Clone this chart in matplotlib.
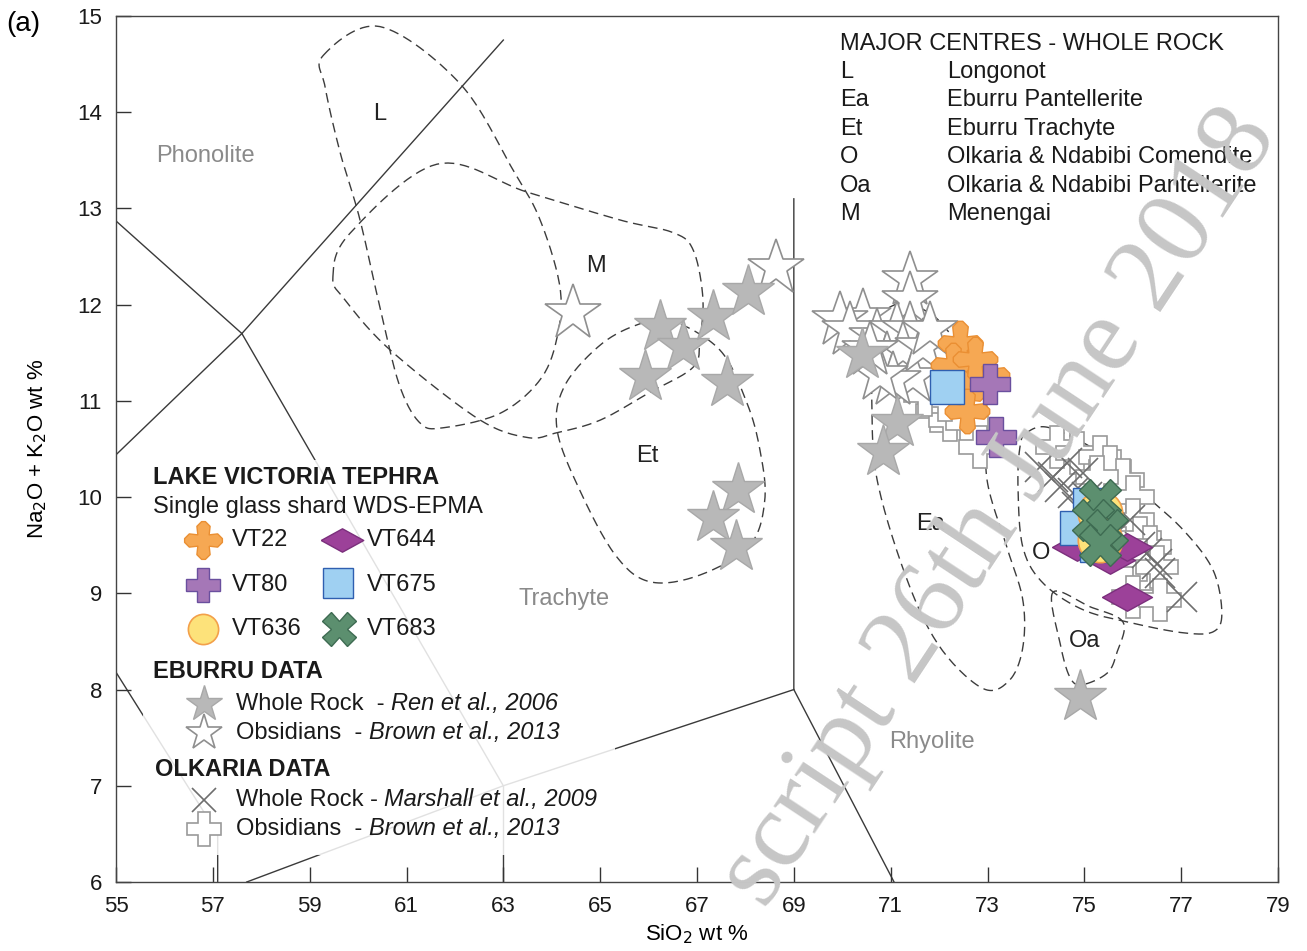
import numpy as np
import matplotlib
matplotlib.use('Agg')
import matplotlib.pyplot as plt
from matplotlib.patches import Rectangle

plt.rcParams['font.family'] = ['Liberation Sans', 'DejaVu Sans']

# ---TAS BOUNDARY LINES (SiO2, Na2O+K2O)---
tas_lines = [
    ([55.0, 57.6], [12.87, 11.7]),
    ([55.0, 57.6, 63.0], [10.44, 11.7, 14.75]),
    ([57.6, 63.0], [11.7, 7.0]),
    ([57.7, 63.0, 69.0], [6.0, 7.0, 8.0]),
    ([69.0, 69.0, 71.07], [13.1, 8.0, 6.0]),
    ([63.0, 63.0], [6.0, 7.0]),
    ([55.0, 57.1, 57.1], [8.18, 6.5, 6.0]),
]

# ---MAJOR CENTRE FIELDS (whole rock outlines)---
L_x = [59.28, 60.45, 62.10, 63.20, 63.76, 64.17, 64.11, 63.76, 62.93, 61.75, 61.28, 60.87, 60.51, 60.04, 59.63, 59.32]
L_y = [14.59, 14.89, 14.30, 13.40, 12.88, 12.18, 11.66, 11.22, 10.87, 10.72, 10.77, 11.14, 11.84, 12.88, 13.58, 14.26]
M_x = [59.48, 59.83, 61.63, 63.49, 65.41, 66.50, 66.92, 67.12, 67.06, 66.92, 66.03, 65.00, 64.11, 63.49, 62.46, 60.66, 59.73]
M_y = [12.29, 12.74, 13.46, 13.17, 12.88, 12.75, 12.57, 12.08, 11.63, 11.35, 11.09, 10.80, 10.67, 10.62, 10.82, 11.53, 12.05]
Et_x = [65.76, 66.44, 67.47, 68.03, 68.30, 68.40, 68.09, 67.06, 66.03, 65.31, 64.58, 64.11, 64.27, 65.00]
Et_y = [11.79, 11.84, 11.53, 10.98, 10.49, 9.97, 9.50, 9.19, 9.12, 9.40, 10.07, 10.70, 11.16, 11.58]
Ea_x = [70.72, 71.25, 71.81, 72.16, 72.58, 72.91, 72.99, 72.99, 73.40, 73.73, 73.73, 73.46, 72.91, 72.02, 71.34, 70.72, 70.61, 70.63]
Ea_y = [11.87, 12.02, 11.91, 11.74, 11.46, 11.14, 10.87, 10.18, 9.48, 8.93, 8.44, 8.10, 8.01, 8.44, 9.14, 10.18, 11.01, 11.63]
O_x = [73.81, 74.29, 75.32, 76.15, 77.04, 77.66, 77.84, 77.66, 77.04, 76.00, 74.97, 74.14, 73.73, 73.63, 73.67]
O_y = [10.67, 10.72, 10.46, 10.07, 9.66, 9.24, 8.79, 8.60, 8.59, 8.69, 8.83, 9.11, 9.48, 10.10, 10.52]
Oa_x = [74.35, 74.50, 74.70, 74.95, 75.47, 75.67, 75.80, 75.12]
Oa_y = [9.01, 8.48, 8.13, 8.05, 8.17, 8.38, 8.70, 8.86]

field_labels = ['L', 'M', 'Et', 'Ea', 'O', 'Oa']
field_lab_x = [60.45, 64.91, 65.97, 71.83, 74.10, 75.01]
field_lab_y = [13.98, 12.40, 10.43, 9.72, 9.42, 8.50]

rock_names = ['Phonolite', 'Trachyte', 'Rhyolite']
rock_x = [56.84, 64.25, 71.85]
rock_y = [13.54, 8.94, 7.46]

# ---EBURRU DATA---
ebu_wr_x = [66.24, 66.71, 65.93, 67.33, 68.05, 67.62, 67.85, 67.33, 67.80, 70.41, 71.13, 70.84, 74.91]
ebu_wr_y = [11.77, 11.56, 11.25, 11.87, 12.13, 11.19, 10.07, 9.78, 9.48, 11.48, 10.77, 10.47, 7.92]
ebu_obs_x = [64.44, 68.63, 71.40, 71.40, 70.43, 69.95, 70.16, 70.72, 71.13, 71.40, 70.92, 71.25,
             71.46, 71.67, 71.05, 71.81, 70.78, 70.57]
ebu_obs_y = [11.91, 12.38, 12.26, 12.05, 11.87, 11.84, 11.74, 11.66, 11.74, 11.74, 11.42, 11.53,
             11.25, 11.56, 11.22, 11.74, 11.27, 11.53]

# ---OLKARIA DATA---
olk_wr_x = [74.08, 74.35, 74.64, 74.50, 74.76, 74.97, 75.05, 74.85, 75.94, 76.15, 76.29, 76.50, 76.56, 77.02]
olk_wr_y = [10.31, 10.21, 10.35, 10.10, 10.04, 10.25, 10.00, 9.90, 9.76, 9.48, 9.42, 9.31, 9.21, 8.96]
olk_obs_x = [71.96, 72.22, 72.58, 72.84, 72.12, 71.71,
             74.43, 74.85, 75.32, 75.53, 75.80, 75.26, 76.00, 76.00, 76.15, 76.35, 76.15, 76.50, 76.00, 76.56]
olk_obs_y = [10.90, 10.80, 10.77, 10.52, 11.01, 11.06,
             10.52, 10.46, 10.42, 10.31, 10.18, 10.21, 10.00, 9.76, 9.58, 9.48, 9.35, 9.27, 8.96, 8.93]

# ---LAKE VICTORIA TEPHRA---
vt22_x = [72.43, 72.29, 72.99, 72.49, 72.58, 72.74]
vt22_y = [11.60, 11.37, 11.27, 11.08, 10.90, 11.44]
vt80_x = [73.05, 73.17]
vt80_y = [11.18, 10.62]
vt636_x = [75.32, 75.32]
vt636_y = [9.84, 9.55]
vt644_x = [74.85, 75.53, 75.88, 75.88]
vt644_y = [9.48, 9.35, 9.48, 8.96]
vt675_x = [72.16, 75.12, 74.85, 75.26]
vt675_y = [11.14, 9.92, 9.68, 9.50]
vt683_x = [75.32, 75.18, 75.47, 75.32]
vt683_y = [9.97, 9.76, 9.66, 9.50]


def closed_curve(xs, ys, n=16):
    p = np.column_stack([xs, ys])
    m = len(p)
    t = np.linspace(0, 1, n, endpoint=False)[:, None]
    out = []
    for i in range(m):
        p0, p1, p2, p3 = p[i - 1], p[i], p[(i + 1) % m], p[(i + 2) % m]
        out.append(0.5 * (2 * p1 + (-p0 + p2) * t + (2 * p0 - 5 * p1 + 4 * p2 - p3) * t ** 2
                          + (-p0 + 3 * p1 - 3 * p2 + p3) * t ** 3))
    out.append(p[:1])
    return np.vstack(out)


# VT22 marker: plus with chamfered arm ends
vt22_marker = [(0.3, -0.3), (0.75, -0.35), (1.0, -0.1), (1.0, 0.1), (0.75, 0.35), (0.3, 0.3),
               (0.35, 0.75), (0.1, 1.0), (-0.1, 1.0), (-0.35, 0.75), (-0.3, 0.3),
               (-0.75, 0.35), (-1.0, 0.1), (-1.0, -0.1), (-0.75, -0.35), (-0.3, -0.3),
               (-0.35, -0.75), (-0.1, -1.0), (0.1, -1.0), (0.35, -0.75), (0.3, -0.3)]
diamond_marker = [(-1, 0), (0, 0.55), (1, 0), (0, -0.55), (-1, 0)]

styles = {
    'vt22': dict(marker=vt22_marker, ms=32, mfc='#f6a853', mec='#ea8f33', mew=1.0),
    'vt80': dict(marker='P', ms=29, mfc='#a577b7', mec='#6a4f9e', mew=1.0),
    'vt636': dict(marker='o', ms=32, mfc='#fde27a', mec='#f3a04a', mew=1.2),
    'vt644': dict(marker=diamond_marker, ms=36, mfc='#9c4199', mec='#7b2f7c', mew=1.0),
    'vt675': dict(marker='s', ms=24, mfc='#9fd0f2', mec='#2f5fb0', mew=1.0),
    'vt683': dict(marker='X', ms=30, mfc='#5c8f6f', mec='#3e6b52', mew=1.0),
    'ebu_wr': dict(marker='*', ms=40, mfc='#b8b8b8', mec='#a8a8a8', mew=1.0),
    'ebu_obs': dict(marker='*', ms=42, mfc='white', mec='#8f8f8f', mew=1.2),
    'olk_wr': dict(marker='x', ms=22, mfc='none', mec='#6e6e6e', mew=1.2),
    'olk_obs': dict(marker='P', ms=30, mfc='white', mec='#9a9a9a', mew=1.2),
}

fig = plt.figure(figsize=(13.07, 9.51), dpi=100)
ax = fig.add_axes([116 / 1307, 69 / 951, 1162 / 1307, 866 / 951])
ax.set_xlim(55, 79)
ax.set_ylim(6, 15)


def ax_pt(px, py):
    return (px - 116) / 1162, (882 - py) / 866


# watermark
fig.text(1000 / 1307, 1 - 508 / 951, 'script 26th June 2018', family=['Liberation Serif', 'DejaVu Serif'],
         fontsize=78, color='#c6c6c6', rotation=56.5, rotation_mode='anchor',
         ha='center', va='center', zorder=0)

for xs, ys in tas_lines:
    ax.plot(xs, ys, color='#3a3a3a', lw=1.0, zorder=1)

for fx, fy in [(L_x, L_y), (M_x, M_y), (Et_x, Et_y), (Ea_x, Ea_y), (O_x, O_y), (Oa_x, Oa_y)]:
    c = closed_curve(fx, fy)
    ax.plot(c[:, 0], c[:, 1], color='#3c3c3c', lw=1.0, ls=(0, (7, 4)), zorder=2)

for lab, x, y in zip(field_labels, field_lab_x, field_lab_y):
    ax.text(x, y, lab, fontsize=17, color='#222222', ha='center', va='center', zorder=2)
for lab, x, y in zip(rock_names, rock_x, rock_y):
    ax.text(x, y, lab, fontsize=17, color='#8a8a8a', ha='center', va='center', zorder=2)

ax.plot(olk_obs_x, olk_obs_y, ls='none', zorder=3, **styles['olk_obs'])
ax.plot(ebu_obs_x, ebu_obs_y, ls='none', zorder=3, **styles['ebu_obs'])
ax.plot(ebu_wr_x, ebu_wr_y, ls='none', zorder=3, **styles['ebu_wr'])
ax.plot(olk_wr_x, olk_wr_y, ls='none', zorder=3, **styles['olk_wr'])
ax.plot(vt22_x, vt22_y, ls='none', zorder=4, **styles['vt22'])
ax.plot(vt80_x, vt80_y, ls='none', zorder=4, **styles['vt80'])
ax.plot(vt644_x, vt644_y, ls='none', zorder=4, **styles['vt644'])
ax.plot(vt675_x, vt675_y, ls='none', zorder=4, **styles['vt675'])
ax.plot(vt636_x, vt636_y, ls='none', zorder=4, **styles['vt636'])
ax.plot(vt683_x, vt683_y, ls='none', zorder=4, **styles['vt683'])

# ---LEGEND BLOCK (left)---
x0, y0 = ax_pt(143, 683)
x1, y1 = ax_pt(450, 460)
ax.add_patch(Rectangle((x0, y0), x1 - x0, y1 - y0, transform=ax.transAxes,
                       fc='white', ec='none', alpha=0.85, zorder=5))
x0, y0 = ax_pt(143, 855)
x1, y1 = ax_pt(615, 683)
ax.add_patch(Rectangle((x0, y0), x1 - x0, y1 - y0, transform=ax.transAxes,
                       fc='white', ec='none', alpha=0.85, zorder=5))


def leg_text(px, py, s, **kw):
    x, y = ax_pt(px, py)
    return ax.text(x, y, s, transform=ax.transAxes, va='center', ha='left', fontsize=17,
                   color='#1a1a1a', zorder=6, **kw)


def leg_cite(prev, s):
    # italic reference placed right after the plain part
    ax.annotate(s, xy=(1, 0), xycoords=prev, va='bottom', ha='left', fontsize=17,
                style='italic', color='#1a1a1a', zorder=6)


def leg_mark(px, py, key, scale=1.0):
    x, y = ax_pt(px, py)
    st = dict(styles[key])
    st['ms'] = st['ms'] * scale
    ax.plot([x], [y], transform=ax.transAxes, ls='none', clip_on=False, zorder=6, **st)


leg_text(153, 477, 'LAKE VICTORIA TEPHRA', fontweight='bold')
leg_text(153, 507, 'Single glass shard WDS-EPMA')
leg_mark(203, 540, 'vt22', 0.85)
leg_text(232, 540, 'VT22')
leg_mark(342, 540, 'vt644', 0.85)
leg_text(367, 540, 'VT644')
leg_mark(203, 585, 'vt80', 0.83)
leg_text(232, 585, 'VT80')
leg_mark(338, 583, 'vt675', 0.9)
leg_text(367, 585, 'VT675')
leg_mark(203, 629, 'vt636', 0.68)
leg_text(232, 629, 'VT636')
leg_mark(339, 629, 'vt683', 0.8)
leg_text(367, 629, 'VT683')
leg_text(153, 672, 'EBURRU DATA', fontweight='bold')
leg_mark(204, 704, 'ebu_wr', 0.68)
t = leg_text(236, 704, 'Whole Rock  - ')
leg_cite(t, 'Ren et al., 2006')
leg_mark(204, 733, 'ebu_obs', 0.64)
t = leg_text(236, 733, 'Obsidians  - ')
leg_cite(t, 'Brown et al., 2013')
leg_text(155, 770, 'OLKARIA DATA', fontweight='bold')
leg_mark(204, 800, 'olk_wr', 0.8)
t = leg_text(236, 800, 'Whole Rock - ')
leg_cite(t, 'Marshall et al., 2009')
leg_mark(204, 829, 'olk_obs', 0.8)
t = leg_text(236, 829, 'Obsidians  - ')
leg_cite(t, 'Brown et al., 2013')

# ---MAJOR CENTRES KEY (top right)---
key_abbr = ['L', 'Ea', 'Et', 'O', 'Oa', 'M']
key_names = ['Longonot', 'Eburru Pantellerite', 'Eburru Trachyte', 'Olkaria & Ndabibi Comendite',
             'Olkaria & Ndabibi Pantellerite', 'Menengai']
leg_text(840, 44, 'MAJOR CENTRES - WHOLE ROCK')
for i, (a, n) in enumerate(zip(key_abbr, key_names)):
    leg_text(840, 72 + 28.4 * i, a)
    leg_text(947, 72 + 28.4 * i, n)

# ---AXES---
ax.set_xticks(np.arange(55, 80, 2))
ax.set_yticks(np.arange(6, 16, 1))
ax.tick_params(direction='in', length=11, width=1, colors='#333333', labelsize=16,
               labelcolor='#1a1a1a', pad=10)
for s in ['left', 'bottom', 'right', 'top']:
    ax.spines[s].set_color('#444444')
    ax.spines[s].set_linewidth(1.0)
ax.set_xlabel(r'SiO$_2$ wt %', fontsize=16, labelpad=4)
ax.set_ylabel(r'Na$_2$O + K$_2$O wt %', fontsize=16, labelpad=20)
fig.text(6 / 1307, 1 - 24 / 951, '(a)', fontsize=20, va='center', ha='left')

fig.savefig('out.png', dpi=100)
